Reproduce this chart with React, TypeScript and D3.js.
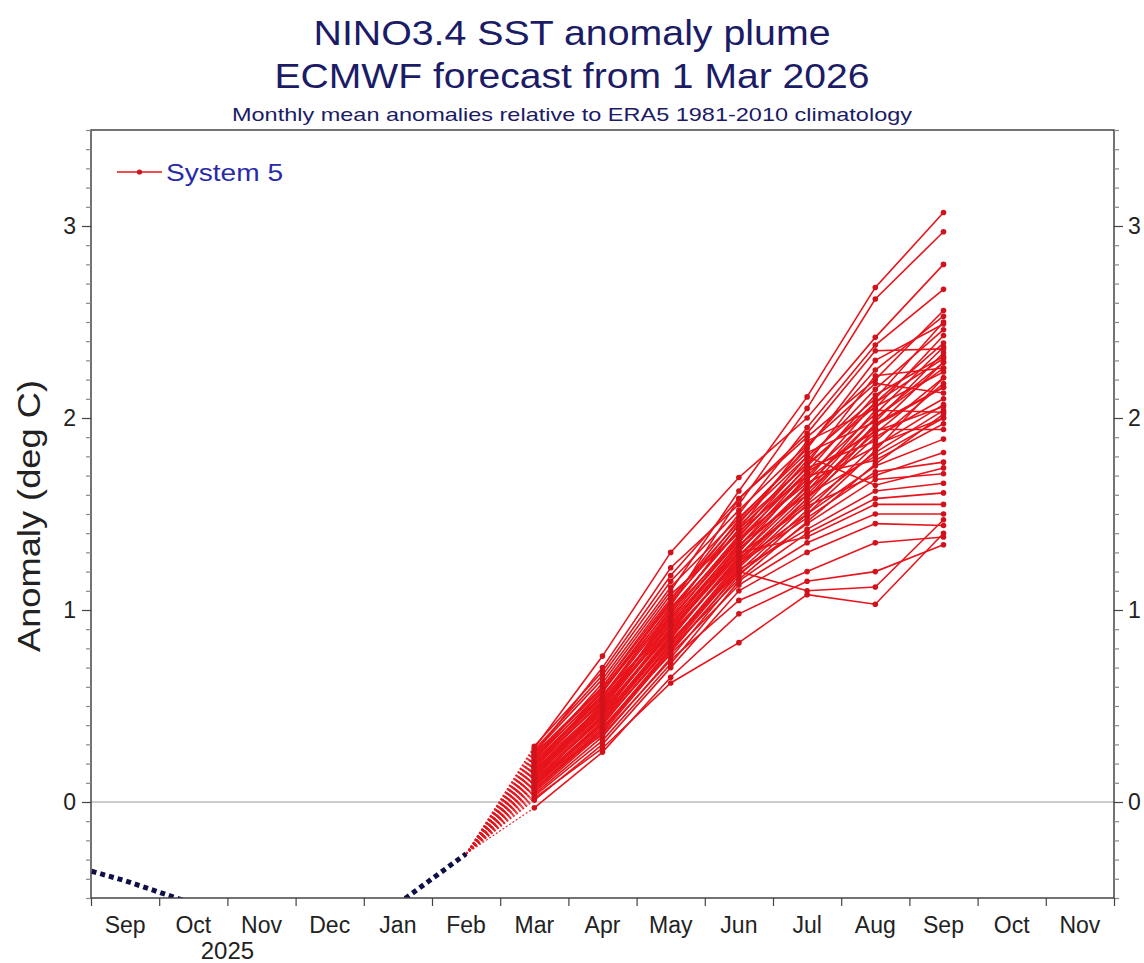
import React, { useEffect, useRef } from "react";
import * as d3 from "d3";

// month bands along the x axis, Sep 2025 .. Nov 2026
const monthLabels = ["Sep", "Oct", "Nov", "Dec", "Jan", "Feb", "Mar", "Apr", "May", "Jun", "Jul", "Aug", "Sep", "Oct", "Nov"];
const yearLabels: [string, number, number][] = [["2025", 0, 4]];

// observed anomalies (Aug 2025 .. Feb 2026), month index relative to Sep 2025
const obsIndex = [-1, 0, 1, 2, 3, 4, 5];
const obsValues = [-0.31, -0.41, -0.53, -0.62, -0.6, -0.53, -0.27];

// forecast months Mar .. Sep 2026
const fcIndex = [6, 7, 8, 9, 10, 11, 12];
const members: number[][] = [
  [0.22, 0.62, 1.1, 1.62, 2.11, 2.68, 3.07],
  [0.25, 0.7, 1.22, 1.55, 2.05, 2.62, 2.97],
  [0.28, 0.76, 1.3, 1.69, 2.0, 2.42, 2.8],
  [0.18, 0.58, 1.05, 1.5, 1.95, 2.38, 2.67],
  [0.2, 0.55, 1.02, 1.58, 1.9, 2.2, 2.56],
  [0.15, 0.5, 0.98, 1.45, 1.85, 2.25, 2.53],
  [0.24, 0.6, 1.08, 1.4, 1.8, 2.1, 2.5],
  [0.12, 0.52, 0.95, 1.38, 1.78, 2.15, 2.46],
  [0.17, 0.48, 1.0, 1.42, 1.88, 2.05, 2.43],
  [0.21, 0.56, 0.92, 1.35, 1.75, 2.08, 2.39],
  [0.1, 0.45, 0.9, 1.3, 1.7, 2.02, 2.37],
  [0.26, 0.64, 1.12, 1.48, 1.82, 1.98, 2.34],
  [0.14, 0.47, 0.88, 1.33, 1.72, 2.12, 2.32],
  [0.19, 0.53, 0.96, 1.36, 1.68, 1.95, 2.29],
  [0.08, 0.42, 0.85, 1.28, 1.65, 2.0, 2.26],
  [0.23, 0.57, 1.04, 1.44, 1.76, 2.06, 2.24],
  [0.13, 0.49, 0.93, 1.32, 1.62, 1.92, 2.21],
  [0.16, 0.51, 0.97, 1.39, 1.74, 1.88, 2.18],
  [0.11, 0.44, 0.87, 1.26, 1.6, 1.96, 2.16],
  [0.27, 0.66, 1.15, 1.52, 1.86, 2.18, 2.13],
  [0.09, 0.4, 0.83, 1.25, 1.58, 1.9, 2.1],
  [0.2, 0.54, 0.99, 1.37, 1.66, 1.85, 2.07],
  [0.07, 0.38, 0.8, 1.22, 1.55, 1.82, 2.04],
  [0.15, 0.46, 0.91, 1.31, 1.64, 2.04, 2.03],
  [0.18, 0.5, 0.94, 1.34, 1.6, 1.8, 2.0],
  [0.05, 0.36, 0.78, 1.2, 1.52, 1.86, 2.0],
  [0.22, 0.58, 1.01, 1.41, 1.7, 1.78, 1.97],
  [0.12, 0.43, 0.86, 1.27, 1.56, 1.94, 1.94],
  [0.04, 0.34, 0.75, 1.18, 1.5, 1.75, 1.89],
  [0.17, 0.48, 0.89, 1.29, 1.54, 1.7, 1.82],
  [0.1, 0.41, 0.82, 1.24, 1.48, 1.72, 1.77],
  [0.25, 0.6, 1.06, 1.46, 1.8, 1.65, 1.74],
  [0.06, 0.37, 0.79, 1.19, 1.45, 1.68, 1.71],
  [0.14, 0.45, 0.84, 1.21, 1.42, 1.62, 1.66],
  [0.03, 0.32, 0.72, 1.15, 1.4, 1.58, 1.61],
  [0.19, 0.52, 0.9, 1.3, 1.38, 1.55, 1.55],
  [0.08, 0.39, 0.77, 1.13, 1.35, 1.5, 1.5],
  [0.01, 0.3, 0.7, 1.1, 1.3, 1.45, 1.44],
  [0.11, 0.35, 0.74, 1.05, 1.2, 1.35, 1.38],
  [-0.03, 0.26, 0.65, 0.98, 1.15, 1.2, 1.34],
  [0.02, 0.28, 0.62, 0.83, 1.08, 1.03, 1.4],
  [0.16, 0.47, 0.88, 1.25, 1.5, 1.83, 2.21],
  [0.21, 0.55, 1.0, 1.42, 1.76, 2.22, 2.26],
  [0.13, 0.44, 0.86, 1.28, 1.62, 2.0, 2.29],
  [0.09, 0.41, 0.81, 1.23, 1.58, 1.97, 2.16],
  [0.24, 0.59, 1.03, 1.47, 1.84, 2.3, 2.49],
  [0.18, 0.53, 0.95, 1.37, 1.72, 1.93, 2.06],
  [0.06, 0.38, 0.8, 1.16, 1.46, 1.76, 2.02],
  [0.29, 0.68, 1.18, 1.58, 1.92, 2.35, 2.36],
  [0.15, 0.49, 0.92, 1.33, 1.68, 2.08, 2.31],
  [0.1, 0.42, 0.84, 1.2, 1.1, 1.12, 1.47],
];

const yMajor = [0, 1, 2, 3];

const W = 1144;
const H = 963;
const margin = { top: 130, right: 30, bottom: 65, left: 91 };
const FONT = "'Liberation Sans', Arial, Helvetica, sans-serif";
const RED = "#e8141c";
const DOT = "#d0121c";
const NAVY = "#1b1b66";

export default function App() {
  const leftRef = useRef<SVGGElement>(null);
  const rightRef = useRef<SVGGElement>(null);
  const bottomRef = useRef<SVGGElement>(null);

  const x0 = margin.left;
  const x1 = W - margin.right;
  const y0 = margin.top;
  const y1 = H - margin.bottom;

  const x = d3.scaleLinear().domain([0, monthLabels.length]).range([x0, x1]);
  const xc = (i: number) => x(i + 0.5); // month centre
  const y = d3.scaleLinear().domain([-0.5, 3.5]).range([y1, y0]);

  const minor = d3.range(-5, 36).map((d) => d / 10).filter((d) => Math.abs(d - Math.round(d)) > 1e-6);

  useEffect(() => {
    const styleAxis = (g: d3.Selection<SVGGElement, unknown, null, undefined>) => {
      g.select(".domain").remove();
      g.selectAll("line").attr("stroke", "#444").attr("stroke-width", 1.2);
      g.selectAll("text").attr("font-family", FONT).attr("fill", "#222");
    };
    const left = d3.select(leftRef.current!);
    left.selectAll("*").remove();
    left.append("g").call(d3.axisLeft(y).tickValues(yMajor).tickSize(9).tickPadding(6).tickFormat(d3.format("d")))
      .call(styleAxis).selectAll("text").attr("font-size", 23);
    left.append("g").call(d3.axisLeft(y).tickValues(minor).tickSize(5).tickFormat(() => ""))
      .call(styleAxis).selectAll("line").attr("stroke", "#888");

    const right = d3.select(rightRef.current!);
    right.selectAll("*").remove();
    right.append("g").call(d3.axisRight(y).tickValues(yMajor).tickSize(9).tickPadding(5).tickFormat(d3.format("d")))
      .call(styleAxis).selectAll("text").attr("font-size", 23);
    right.append("g").call(d3.axisRight(y).tickValues(minor).tickSize(5).tickFormat(() => ""))
      .call(styleAxis).selectAll("line").attr("stroke", "#888");

    const bottom = d3.select(bottomRef.current!);
    bottom.selectAll("*").remove();
    bottom.append("g").call(d3.axisBottom(x).tickValues(d3.range(0, monthLabels.length + 1)).tickSize(8).tickFormat(() => ""))
      .call(styleAxis);
  }, []);

  const line = d3.line<[number, number]>().x((d) => xc(d[0])).y((d) => y(d[1]));
  const obsPts: [number, number][] = obsIndex.map((m, i) => [m, obsValues[i]]);
  const febVal = obsValues[obsValues.length - 1];
  const febIdx = obsIndex[obsIndex.length - 1];

  return (
    <svg width={W} height={H} style={{ position: "absolute", left: 0, top: 0, background: "#fff" }} fontFamily={FONT}>
      <defs>
        <clipPath id="plot">
          <rect x={x0} y={y0} width={x1 - x0} height={y1 - y0} />
        </clipPath>
      </defs>

      <text x={W / 2} y={45} textAnchor="middle" fontSize={35} fill={NAVY} textLength={517} lengthAdjust="spacingAndGlyphs">NINO3.4 SST anomaly plume</text>
      <text x={W / 2} y={88} textAnchor="middle" fontSize={35} fill={NAVY} textLength={595} lengthAdjust="spacingAndGlyphs">ECMWF forecast from 1 Mar 2026</text>
      <text x={W / 2} y={121} textAnchor="middle" fontSize={19} fill={NAVY} textLength={680} lengthAdjust="spacingAndGlyphs">Monthly mean anomalies relative to ERA5 1981-2010 climatology</text>

      <line x1={x0} x2={x1} y1={y(0)} y2={y(0)} stroke="#999" strokeWidth={1} />

      <g clipPath="url(#plot)">
        {members.map((m, k) => (
          <line key={"d" + k} x1={xc(febIdx)} y1={y(febVal)} x2={xc(fcIndex[0])} y2={y(m[0])}
            stroke={RED} strokeWidth={1.1} strokeDasharray="2,2" />
        ))}
        <path d={line(obsPts) || ""} fill="none" stroke="#101048" strokeWidth={5} strokeDasharray="5,4" />
        {members.map((m, k) => (
          <g key={"m" + k}>
            <path d={line(fcIndex.map((mi, i) => [mi, m[i]] as [number, number])) || ""} fill="none"
              stroke={RED} strokeWidth={1.6} />
            {m.map((v, i) => (
              <circle key={i} cx={xc(fcIndex[i])} cy={y(v)} r={2.8} fill={DOT} />
            ))}
          </g>
        ))}
      </g>

      <rect x={x0} y={y0} width={x1 - x0} height={y1 - y0} fill="none" stroke="#444" strokeWidth={1.5} />
      <g ref={leftRef} transform={`translate(${x0},0)`} />
      <g ref={rightRef} transform={`translate(${x1},0)`} />
      <g ref={bottomRef} transform={`translate(0,${y1})`} />

      {monthLabels.map((mLab, i) => (
        <text key={i} x={xc(i)} y={933} textAnchor="middle" fontSize={23} fill="#222">{mLab}</text>
      ))}
      {yearLabels.map(([lab, a, b]) => (
        <text key={lab} x={(x(a) + x(b)) / 2} y={959} textAnchor="middle" fontSize={24} fill="#222">{lab}</text>
      ))}

      <text transform={`translate(40,${(y0 + y1) / 2 + 2}) rotate(-90)`} textAnchor="middle" fontSize={32} fill="#222"
        textLength={272} lengthAdjust="spacingAndGlyphs">Anomaly (deg C)</text>

      <g>
        <line x1={117} x2={162} y1={172} y2={172} stroke={RED} strokeWidth={1.4} />
        <circle cx={139.5} cy={172} r={2.6} fill={DOT} />
        <text x={166} y={181} fontSize={24} fill="#2a2aa8" textLength={117} lengthAdjust="spacingAndGlyphs">System 5</text>
      </g>
    </svg>
  );
}
